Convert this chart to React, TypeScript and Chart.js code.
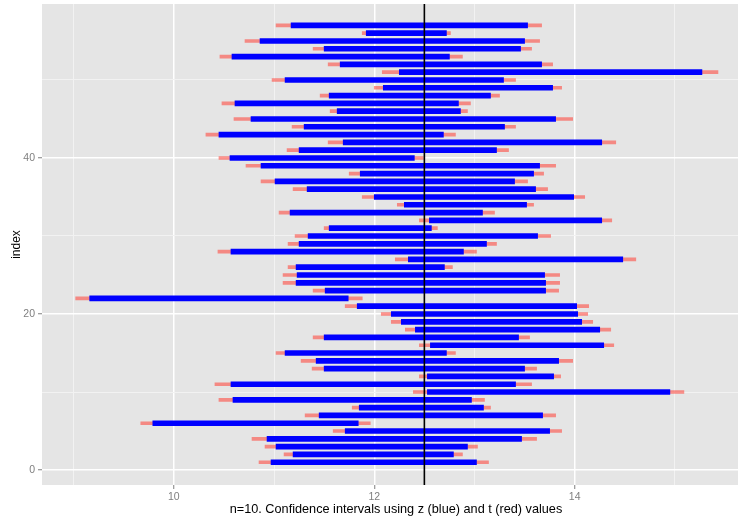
import React, { useEffect, useRef } from 'react';
import { Chart, registerables } from 'chart.js';

Chart.register(...registerables);

// ---- data ----
const INDEX = [
  1, 2, 3, 4, 5, 6, 7, 8, 9, 10, 11, 12, 13, 14, 15, 16, 17, 18, 19, 20,
  21, 22, 23, 24, 25, 26, 27, 28, 29, 30, 31, 32, 33, 34, 35, 36, 37, 38, 39, 40,
  41, 42, 43, 44, 45, 46, 47, 48, 49, 50, 51, 52, 53, 54, 55, 56, 57,
];

// z-based intervals (blue)
const Z_LO = [
  10.97, 11.19, 11.02, 10.93, 11.71, 9.79, 11.45, 11.85, 10.59, 12.53,
  10.57, 12.53, 11.5, 11.42, 11.11, 12.56, 11.5, 12.41, 12.27, 12.17,
  11.83, 9.16, 11.51, 11.22, 11.23, 11.22, 12.34, 10.57, 11.25, 11.34,
  11.55, 12.55, 11.16, 12.3, 12.0, 11.33, 11.01, 11.86, 10.87, 10.56,
  11.25, 11.69, 10.45, 11.3, 10.77, 11.63, 10.61, 11.55, 12.09, 11.11,
  12.25, 11.66, 10.58, 11.5, 10.86, 11.92, 11.17,
];
const Z_HI = [
  13.02, 12.79, 12.93, 13.47, 13.75, 11.84, 13.68, 13.09, 12.97, 14.95,
  13.41, 13.79, 13.5, 13.84, 12.72, 14.29, 13.44, 14.25, 14.07, 14.03,
  14.02, 11.74, 13.71, 13.71, 13.7, 12.7, 14.48, 12.89, 13.12, 13.63,
  12.57, 14.27, 13.08, 13.52, 13.99, 13.61, 13.4, 13.59, 13.65, 12.4,
  13.22, 14.27, 12.69, 13.3, 13.81, 12.86, 12.84, 13.16, 13.78, 13.29,
  15.27, 13.67, 12.75, 13.46, 13.5, 12.72, 13.53,
];

// t-based intervals (red)
const T_LO = [
  10.85, 11.1, 10.91, 10.78, 11.59, 9.67, 11.31, 11.78, 10.45, 12.39,
  10.41, 12.45, 11.38, 11.27, 11.02, 12.45, 11.39, 12.31, 12.17, 12.07,
  11.71, 9.02, 11.39, 11.09, 11.09, 11.14, 12.21, 10.44, 11.14, 11.21,
  11.5, 12.45, 11.05, 12.23, 11.88, 11.19, 10.87, 11.75, 10.72, 10.45,
  11.13, 11.54, 10.32, 11.18, 10.6, 11.56, 10.48, 11.46, 12.0, 10.98,
  12.08, 11.54, 10.46, 11.39, 10.71, 11.88, 11.02,
];
const T_HI = [
  13.14, 12.88, 13.03, 13.62, 13.87, 11.96, 13.81, 13.16, 13.1, 15.09,
  13.57, 13.86, 13.62, 13.98, 12.81, 14.39, 13.55, 14.36, 14.18, 14.13,
  14.14, 11.88, 13.84, 13.85, 13.85, 12.78, 14.61, 13.02, 13.22, 13.76,
  12.63, 14.37, 13.2, 13.59, 14.1, 13.73, 13.53, 13.69, 13.81, 12.49,
  13.34, 14.41, 12.81, 13.41, 13.98, 12.93, 12.96, 13.25, 13.87, 13.41,
  15.43, 13.78, 12.88, 13.57, 13.65, 12.76, 13.67,
];

const TRUE_MEAN = 12.5;
const X_MAJOR = [10, 12, 14];
const Y_MAJOR = [0, 20, 40];
const X_TITLE = 'n=10. Confidence intervals using z (blue) and t (red) values';
const Y_TITLE = 'index';

const FONT = '"Liberation Sans", Arial, Helvetica, sans-serif';

const panelBg = {
  id: 'panelBg',
  beforeDraw(chart: any) {
    const { ctx, chartArea: a } = chart;
    ctx.save();
    ctx.fillStyle = '#E5E5E5';
    ctx.fillRect(a.left, a.top, a.right - a.left, a.bottom - a.top);
    ctx.restore();
  },
};

const meanLine = {
  id: 'meanLine',
  afterDatasetsDraw(chart: any) {
    const { ctx, chartArea: a, scales } = chart;
    const px = scales.x.getPixelForValue(TRUE_MEAN);
    ctx.save();
    ctx.strokeStyle = '#000000';
    ctx.lineWidth = 1.6;
    ctx.beginPath();
    ctx.moveTo(px, a.top);
    ctx.lineTo(px, a.bottom);
    ctx.stroke();
    ctx.restore();
  },
};

const xTitle = {
  id: 'xTitle',
  afterDraw(chart: any) {
    const { ctx, chartArea: a } = chart;
    ctx.save();
    ctx.fillStyle = '#000000';
    ctx.font = `12.7px ${FONT}`;
    ctx.textAlign = 'center';
    ctx.textBaseline = 'middle';
    ctx.fillText(X_TITLE, (a.left + a.right) / 2 + 6, 509);
    ctx.restore();
  },
};

export default function App() {
  const ref = useRef<HTMLCanvasElement>(null);

  useEffect(() => {
    const canvas = ref.current;
    if (!canvas) return;
    const chart = new Chart(canvas, {
      type: 'bar',
      data: {
        datasets: [
          {
            label: 'z',
            data: INDEX.map((i, k) => ({ y: i, x: [Z_LO[k], Z_HI[k]] })) as any,
            backgroundColor: '#0000FF',
            barThickness: 5,
            grouped: false,
            borderWidth: 0,
            borderSkipped: false,
            order: 0,
          } as any,
          {
            label: 't',
            data: INDEX.map((i, k) => ({ y: i, x: [T_LO[k], T_HI[k]] })) as any,
            backgroundColor: 'rgba(255,70,60,0.58)',
            barThickness: 3,
            grouped: false,
            borderWidth: 0,
            borderSkipped: false,
            order: 1,
          } as any,
        ],
      },
      options: {
        indexAxis: 'y',
        responsive: false,
        animation: false,
        devicePixelRatio: 1,
        layout: { padding: { left: 0, right: 0, top: 4, bottom: 0 } },
        plugins: { legend: { display: false }, tooltip: { enabled: false } },
        scales: {
          x: {
            type: 'linear',
            min: 8.684,
            max: 15.63,
            offset: false,
            afterFit: (s: any) => {
              s.height = 33;
              s.paddingLeft = 0;
              s.paddingRight = 0;
            },
            border: { display: false },
            grid: {
              offset: false,
              color: (c: any) => (X_MAJOR.includes(c.tick?.value) ? '#FFFFFF' : '#F2F2F2'),
              lineWidth: (c: any) => (X_MAJOR.includes(c.tick?.value) ? 1.5 : 1),
              tickColor: (c: any) => (X_MAJOR.includes(c.tick?.value) ? '#7F7F7F' : 'rgba(0,0,0,0)'),
              tickWidth: 1,
              tickLength: 4,
              drawTicks: true,
            },
            ticks: {
              stepSize: 1,
              includeBounds: false,
              autoSkip: false,
              maxRotation: 0,
              padding: 2,
              color: '#7F7F7F',
              font: { family: FONT, size: 10.5 },
              callback: (v: any) => (X_MAJOR.includes(v) ? String(v) : ''),
            },
          },
          y: {
            type: 'linear',
            min: -1.92,
            max: 59.74,
            offset: false,
            afterFit: (s: any) => {
              s.width = 42;
              s.paddingTop = 0;
              s.paddingBottom = 0;
            },
            border: { display: false },
            grid: {
              offset: false,
              color: (c: any) => (Y_MAJOR.includes(c.tick?.value) ? '#FFFFFF' : '#F2F2F2'),
              lineWidth: (c: any) => (Y_MAJOR.includes(c.tick?.value) ? 1.5 : 1),
              tickColor: (c: any) => (Y_MAJOR.includes(c.tick?.value) ? '#7F7F7F' : 'rgba(0,0,0,0)'),
              tickWidth: 1,
              tickLength: 4,
              drawTicks: true,
            },
            ticks: {
              stepSize: 10,
              includeBounds: false,
              autoSkip: false,
              padding: 3,
              color: '#7F7F7F',
              font: { family: FONT, size: 10.5 },
              callback: (v: any) => (Y_MAJOR.includes(v) ? String(v) : ''),
            },
            title: {
              display: true,
              text: Y_TITLE,
              color: '#000000',
              font: { family: FONT, size: 12 },
              padding: { top: 9, bottom: 0 },
            },
          },
        },
      } as any,
      plugins: [panelBg, meanLine, xTitle],
    });
    return () => chart.destroy();
  }, []);

  return (
    <div style={{ position: 'absolute', left: 0, top: 0, width: 738, height: 518, background: '#FFFFFF' }}>
      <canvas ref={ref} width={738} height={518} style={{ display: 'block', width: 738, height: 518 }} />
    </div>
  );
}
